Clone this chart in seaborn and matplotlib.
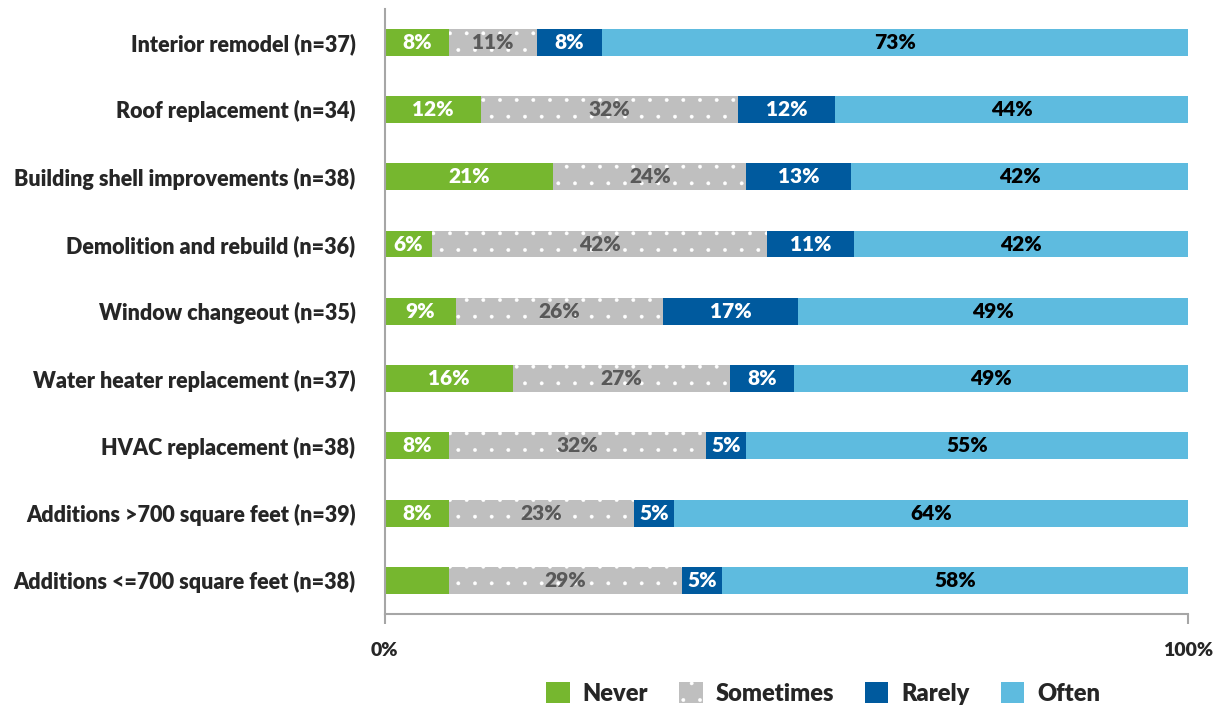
"""
    Grafico de barras empilhadas 100% com a frequencia por tipo de projeto.
"""

import numpy as np
import pandas as pd
from matplotlib import pyplot as plt
from matplotlib.patches import Patch
import seaborn as sns

# Dados
categories = [
    "Interior remodel (n=37)",
    "Roof replacement (n=34)",
    "Building shell improvements (n=38)",
    "Demolition and rebuild (n=36)",
    "Window changeout (n=35)",
    "Water heater replacement (n=37)",
    "HVAC replacement (n=38)",
    "Additions >700 square feet (n=39)",
    "Additions <=700 square feet (n=38)",
]
never = [8, 12, 21, 6, 9, 16, 8, 8, 8]
sometimes = [11, 32, 24, 42, 26, 27, 32, 23, 29]
rarely = [8, 12, 13, 11, 17, 8, 5, 5, 5]
often = [73, 44, 42, 42, 49, 49, 55, 64, 58]
# o ultimo "Never" nao tem rotulo no original
never_labels = ["8%", "12%", "21%", "6%", "9%", "16%", "8%", "8%", ""]

series_names = ["Never", "Sometimes", "Rarely", "Often"]
colors = ["#76B72F", "#BFBFBF", "#005A9E", "#5EBBDF"]
text_colors = ["white", "#595959", "white", "black"]

df = pd.DataFrame({"categoria": categories, "Never": never,
                   "Sometimes": sometimes, "Rarely": rarely, "Often": often})
values = df[series_names].to_numpy(dtype=float)
# 100% empilhado: normaliza cada linha
share = values / values.sum(axis=1, keepdims=True) * 100
cum = np.cumsum(share, axis=1)

sns.set_theme(style="white")
plt.rcParams["font.family"] = ["Lato", "DejaVu Sans"]
plt.rcParams["hatch.linewidth"] = 0.3

fig = plt.figure(figsize=(12.25, 7.12), dpi=100)
ax = fig.add_axes([0.314, 0.1376, 0.656, 0.8504])

# desenha do maior acumulado para o menor (sobreposicao)
for i in range(3, -1, -1):
    if series_names[i] == "Sometimes":
        extra = dict(hatch=".", edgecolor="white", linewidth=0)
    else:
        extra = dict(edgecolor="none", linewidth=0)
    sns.barplot(x=cum[:, i], y=df["categoria"], color=colors[i],
                orient="h", width=0.4, errorbar=None, saturation=1,
                ax=ax, **extra)

# rotulos de cada segmento
for r in range(len(categories)):
    for i, name in enumerate(series_names):
        start = cum[r, i] - share[r, i]
        center = start + share[r, i] / 2
        label = never_labels[r] if name == "Never" else f"{int(values[r, i])}%"
        if label:
            ax.text(center, r, label, ha="center", va="center",
                    color=text_colors[i], fontsize=15, fontweight="heavy")

ax.set_xlim(0, 100)
ax.set_ylim(len(categories) - 0.5, -0.5)
ax.set_xticks([0, 100])
ax.set_xticklabels(["0%", "100%"], fontsize=14, fontweight="heavy")
ax.set_xlabel("")
ax.set_ylabel("")
ax.tick_params(axis="x", bottom=True, length=7, width=1.5, color="#A6A6A6",
               pad=13, direction="out")
ax.tick_params(axis="y", left=False, labelsize=15.5, pad=15)
for lab in ax.get_yticklabels():
    lab.set_fontweight("heavy")

sns.despine(ax=ax, top=True, right=True)
for side in ["left", "bottom"]:
    ax.spines[side].set_color("#A6A6A6")
    ax.spines[side].set_linewidth(1.5)

handles = []
for i, name in enumerate(series_names):
    if name == "Sometimes":
        handles.append(Patch(facecolor=colors[i], hatch=".", edgecolor="white",
                             linewidth=0, label=name))
    else:
        handles.append(Patch(facecolor=colors[i], edgecolor="none", label=name))
fig.legend(handles=handles, loc="center", bbox_to_anchor=(0.672, 0.026),
           ncol=4, frameon=False, handlelength=1.0, handleheight=1.0,
           columnspacing=1.3, handletextpad=0.55,
           prop={"size": 17, "weight": "heavy"})

fig.savefig("out.png", dpi=100)
